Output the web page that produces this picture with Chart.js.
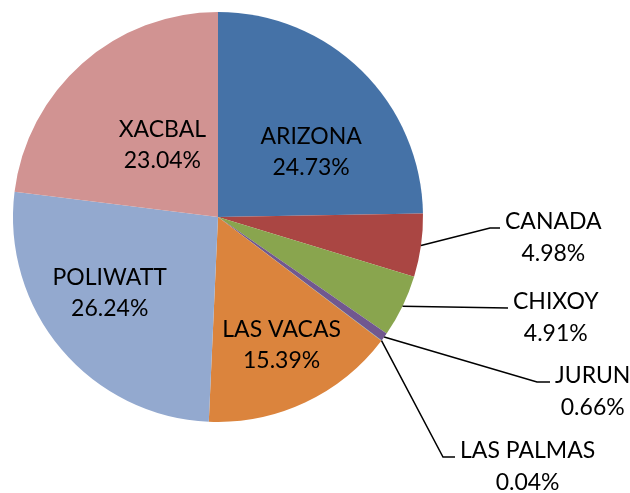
<!DOCTYPE html>
<html><head><meta charset="utf-8">
<script src="https://cdn.jsdelivr.net/npm/chart.js@4"></script>
<style>html,body{margin:0;padding:0;background:#fff}#wrap{width:630px;height:493px}</style>
</head><body><div id="wrap"><canvas id="c" width="630" height="493"></canvas></div>
<script>
const categories = ["ARIZONA","CANADA","CHIXOY","JURUN","LAS PALMAS","LAS VACAS","POLIWATT","XACBAL"];
const shares = [24.73, 4.98, 4.91, 0.66, 0.04, 15.39, 26.24, 23.04];
const colors = ["#4572A7","#AA4643","#89A54E","#71588F","#4198AF","#DB843D","#93A9CF","#D19392"];

const FONT = '23px Lato, "Liberation Sans", sans-serif';
const LINE_H = 31;
// label placement: inside -> polar (angle offset deg, radius frac); outside -> elbow/text
const placement = {
  0: {type:'in', dAng: 9.7, rf: 0.56},
  7: {type:'in', dAng: 4.4, rf: 0.45},
  6: {type:'in', dAng: 5.8, rf: 0.64},
  5: {type:'in', dAng: -1.6, rf: 0.69},
  1: {type:'out', elbow:[490,228], end:[500,228]},
  2: {type:'out', elbow:[508,308], end:[508,308]},
  3: {type:'out', elbow:[537,382], end:[550,382]},
  4: {type:'out', elbow:[443,457], end:[455,457]}
};

const labelPlugin = {
  id: 'pieLabels',
  afterDatasetsDraw(chart) {
    const ctx = chart.ctx;
    const meta = chart.getDatasetMeta(0);
    ctx.save();
    ctx.font = FONT;
    ctx.fillStyle = '#000';
    ctx.textBaseline = 'middle';
    meta.data.forEach((arc, i) => {
      const p = placement[i];
      const {x, y, startAngle, endAngle, outerRadius} = arc.getProps(['x','y','startAngle','endAngle','outerRadius'], true);
      const mid = (startAngle + endAngle) / 2;
      const t1 = categories[i];
      const t2 = shares[i].toFixed(2) + '%';
      if (p.type === 'in') {
        const a = mid + p.dAng * Math.PI / 180;
        const r = outerRadius * p.rf;
        const cx = x + Math.cos(a) * r, cy = y + Math.sin(a) * r + 2;
        ctx.textAlign = 'center';
        ctx.fillText(t1, cx, cy - LINE_H / 2);
        ctx.fillText(t2, cx, cy + LINE_H / 2);
      } else {
        const ex = x + Math.cos(mid) * outerRadius, ey = y + Math.sin(mid) * outerRadius;
        ctx.strokeStyle = '#000';
        ctx.lineWidth = 1.5;
        ctx.beginPath();
        ctx.moveTo(ex, ey);
        ctx.lineTo(p.elbow[0], p.elbow[1]);
        ctx.lineTo(p.end[0], p.end[1]);
        ctx.stroke();
        const w = Math.max(ctx.measureText(t1).width, ctx.measureText(t2).width);
        const tx = p.end[0] + 5 + w / 2;
        const ty = p.end[1] - 6;
        ctx.textAlign = 'center';
        ctx.fillText(t1, tx, ty);
        ctx.fillText(t2, tx, ty + LINE_H + 1);
      }
    });
    ctx.restore();
  }
};

new Chart(document.getElementById('c'), {
  type: 'pie',
  data: { labels: categories, datasets: [{ data: shares, backgroundColor: colors, borderWidth: 0 }] },
  options: {
    responsive: false,
    animation: false,
    layout: { padding: { left: 13, right: 207, top: 12, bottom: 71 } },
    plugins: { legend: { display: false }, tooltip: { enabled: false } }
  },
  plugins: [labelPlugin]
});
</script>
</body></html>
